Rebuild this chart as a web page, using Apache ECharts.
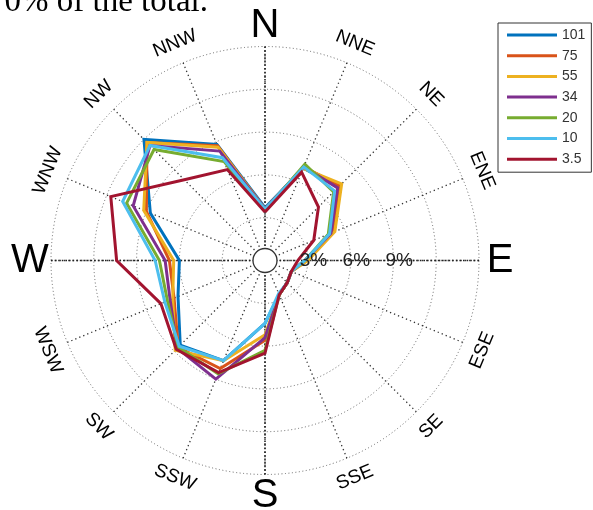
<!DOCTYPE html>
<html>
<head>
<meta charset="utf-8">
<script src="https://cdn.jsdelivr.net/npm/echarts@6/dist/echarts.min.js"></script>
<style>
html,body{margin:0;padding:0;background:#fff;}
#chart{width:593px;height:510px;}
</style>
</head>
<body>
<div id="chart"></div>
<script>
// ---- data ----
const directions = ['N','NNE','NE','ENE','E','ESE','SE','SSE','S','SSW','SW','WSW','W','WNW','NW','NNW'];
const seriesNames = ['101','75','55','34','20','10','3.5'];
const ringTicks = [3, 6, 9];
const ringLabels = ['3%', '6%', '9%'];
const v101 = [3.7, 7.0, 7.3, 5.0, 2.8, 2.0, 2.2, 2.6, 4.4, 7.6, 8.4, 6.6, 6.0, 8.7, 12.0, 8.8];
const v75  = [3.6, 7.1, 7.4, 5.1, 2.9, 2.0, 2.2, 2.6, 5.6, 8.2, 8.6, 6.9, 6.7, 9.0, 11.7, 8.7];
const v55  = [3.6, 7.0, 7.6, 5.3, 3.0, 2.0, 2.2, 2.6, 5.2, 7.6, 8.9, 7.0, 6.4, 9.2, 11.7, 8.6];
const v34  = [3.6, 7.1, 7.2, 5.0, 2.8, 2.0, 2.2, 2.6, 5.4, 9.0, 8.7, 7.2, 7.0, 10.0, 11.4, 8.3];
const v20  = [3.5, 7.3, 6.8, 4.8, 2.8, 2.0, 2.2, 2.6, 6.3, 8.6, 8.6, 7.4, 7.4, 10.5, 11.0, 7.5];
const v10  = [3.6, 7.1, 6.9, 4.9, 2.8, 2.0, 2.2, 2.5, 4.4, 7.6, 8.5, 7.6, 7.7, 10.8, 11.4, 7.8];
const v3_5 = [3.4, 6.7, 5.3, 3.7, 2.3, 2.0, 2.2, 2.6, 6.5, 8.5, 8.8, 7.9, 10.4, 11.7, 8.0, 6.9];
const seriesValues = [v101, v75, v55, v34, v20, v10, v3_5];
const colors = ['#0072BD','#D95319','#EDB120','#7E2F8E','#77AC30','#4DBEEE','#A2142F'];

// ---- layout ----
const CX = 265, CY = 260.5, R = 214, RMAX = 15;
const step = 360 / directions.length;

function toPairs(vals) {
  const out = vals.map((v, i) => [v, i * step]);
  out.push([vals[0], 360]);
  return out;
}

const chart = echarts.init(document.getElementById('chart'), null, {renderer: 'canvas'});

const series = seriesNames.map((name, k) => ({
  name: name,
  type: 'line',
  coordinateSystem: 'polar',
  polarIndex: 0,
  data: toPairs(seriesValues[k]),
  symbol: 'none',
  lineStyle: {width: 3, color: colors[k], join: 'miter'},
  itemStyle: {color: colors[k]},
  z: 5 + k,
  animation: false
}));

const option = {
  animation: false,
  backgroundColor: '#fff',
  polar: [
    {center: [CX, CY], radius: [0, R]},
    {center: [CX, CY], radius: [0, R]}
  ],
  angleAxis: [
    {
      polarIndex: 0, type: 'value', min: 0, max: 360, interval: step,
      startAngle: 90, clockwise: true,
      axisLine: {show: false}, axisTick: {show: false}, axisLabel: {show: false},
      splitLine: {show: true, lineStyle: {color: '#333', width: 1.3, type: [1.3, 3]}}
    },
    {
      polarIndex: 1, type: 'value', min: 0, max: 360, interval: 90,
      startAngle: 90, clockwise: true,
      axisLine: {show: false}, axisTick: {show: false}, axisLabel: {show: false},
      splitLine: {show: true, lineStyle: {color: '#222', width: 1.6, type: [1.6, 2]}}
    }
  ],
  radiusAxis: [
    {
      polarIndex: 0, min: 0, max: RMAX, interval: 3,
      axisLine: {show: false}, axisTick: {show: false}, axisLabel: {show: false},
      splitLine: {show: true, lineStyle: {color: '#666', width: 1, type: [1, 2.5]}}
    },
    {
      polarIndex: 1, min: 0, max: RMAX, interval: 3,
      axisLine: {show: false}, axisTick: {show: false}, axisLabel: {show: false},
      splitLine: {show: false}
    }
  ],
  legend: {
    orient: 'vertical',
    left: 498, top: 23,
    data: seriesNames,
    icon: 'rect',
    itemWidth: 50, itemHeight: 3,
    itemGap: 6.7,
    padding: [5, 6, 6, 9],
    backgroundColor: '#fff',
    borderColor: '#333', borderWidth: 1,
    textStyle: {fontFamily: 'Liberation Sans, Arial, sans-serif', fontSize: 14, color: '#333'},
    selectedMode: false
  },
  series: series
};
chart.setOption(option);

// ---- texts ----
const graphics = [];
const labelR = 235;
directions.forEach((d, i) => {
  const th = i * step;
  const rad = th * Math.PI / 180;
  const x = CX + labelR * Math.sin(rad);
  const y = CY - labelR * Math.cos(rad);
  const cardinal = (i % 4 === 0);
  let rot = 0;
  if (!cardinal) {
    let deg = (th < 90 || th > 270) ? -th : (180 - th);
    rot = deg * Math.PI / 180;
  }
  graphics.push({
    type: 'text', x: x, y: y, rotation: rot, z: 20,
    style: {
      text: d, x: 0, y: 0, align: 'center', verticalAlign: 'middle',
      fontFamily: 'Liberation Sans, Arial, sans-serif',
      fontSize: cardinal ? 40 : 19, fill: '#000'
    }
  });
});
ringTicks.forEach((t, i) => {
  const p = chart.convertToPixel({polarIndex: 0}, [t, 90]);
  graphics.push({
    type: 'text', x: p[0] - 8, y: CY, z: 20,
    style: {
      text: ringLabels[i], x: 0, y: 0, align: 'left', verticalAlign: 'middle',
      fontFamily: 'Liberation Sans, Arial, sans-serif', fontSize: 19, fill: '#222'
    }
  });
});
graphics.push({
  type: 'circle', shape: {cx: CX, cy: CY, r: 12}, z: 15,
  style: {fill: '#fff', stroke: '#333', lineWidth: 1.3}
});
graphics.push({
  type: 'text', x: -12, y: -14, z: 20,
  style: {
    text: '70% of the total.', x: 0, y: 0, align: 'left', verticalAlign: 'top',
    fontFamily: 'Liberation Serif, Times New Roman, serif', fontSize: 33, fill: '#000'
  }
});
chart.setOption({graphic: graphics});
</script>
</body>
</html>
